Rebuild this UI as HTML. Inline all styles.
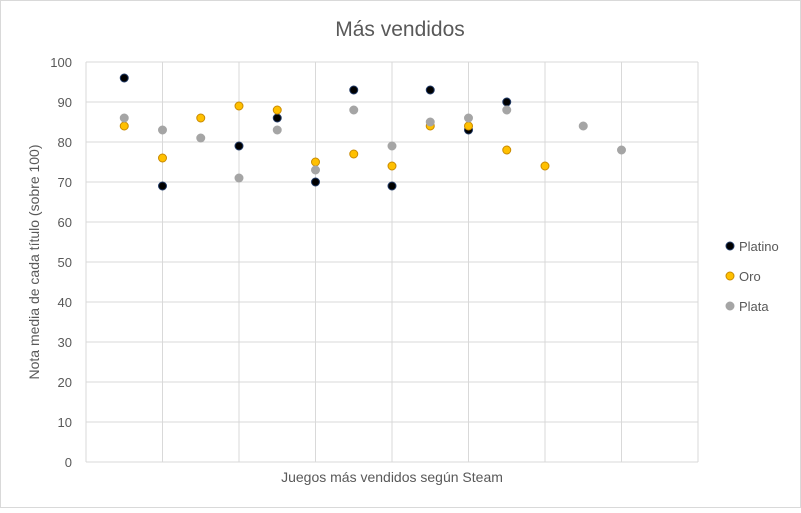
<!DOCTYPE html>
<html><head><meta charset="utf-8"><style>
body{margin:0;background:#fff;font-family:"Liberation Sans",sans-serif}
svg text{font-family:"Liberation Sans",sans-serif;fill:#595959}
</style></head><body>
<svg width="801" height="508">
<rect x="0.5" y="0.5" width="800" height="507" fill="#fff" stroke="#d9d9d9"/>
<text x="400" y="36" text-anchor="middle" font-size="21">Más vendidos</text>
<g id="grid"></g><g id="marks"></g>
<text x="392" y="482" text-anchor="middle" font-size="14">Juegos más vendidos según Steam</text>
<text transform="translate(39,262) rotate(-90)" text-anchor="middle" font-size="14">Nota media de cada título (sobre 100)</text>
<g id="legend"></g>
</svg>
<script>
const yTicks=[0,10,20,30,40,50,60,70,80,90,100];
const xTicks=[0,1,2,3,4,5,6,7,8];
const seriesNames=["Platino","Oro","Plata"];
const seriesColors=["#000000","#ffc000","#a5a5a5"];
const seriesStroke=["#1f3864","#c98a00","#a5a5a5"];
const platinoX=[0.5,1,2,2.5,3,3.5,4,4.5,5,5.5];
const platinoY=[96,69,79,86,70,93,69,93,83,90];
const oroX=[0.5,1,1.5,2,2.5,3,3.5,4,4.5,5,5.5,6];
const oroY=[84,76,86,89,88,75,77,74,84,84,78,74];
const plataX=[0.5,1,1.5,2,2.5,3,3.5,4,4.5,5,5.5,6.5,7];
const plataY=[86,83,81,71,83,73,88,79,85,86,88,84,78];
const NS="http://www.w3.org/2000/svg";
const x0=86,x1=698,y0=462,y1=62;
const sx=v=>x0+(x1-x0)*v/8, sy=v=>y0-(y0-y1)*v/100;
function mk(t,a,p){const e=document.createElementNS(NS,t);for(const k in a)e.setAttribute(k,a[k]);p.appendChild(e);return e;}
const grid=document.getElementById('grid');
yTicks.forEach(v=>{
 const l=mk('line',{x1:x0,x2:x1,y1:sy(v),y2:sy(v),stroke:'#d9d9d9'},grid);
 
 
 const t=mk('text',{x:72,y:sy(v)+5,'text-anchor':'end','font-size':13},grid);t.textContent=v;
 
 
});
xTicks.forEach(v=>{
 const l=mk('line',{x1:sx(v),x2:sx(v),y1:y1,y2:y0,stroke:'#d9d9d9'},grid);
 
 
});
const marks=document.getElementById('marks');
[[platinoX,platinoY],[oroX,oroY],[plataX,plataY]].forEach((s,i)=>{
 s[0].forEach((xv,j)=>{
  const c=mk('circle',{cx:sx(xv),cy:sy(s[1][j]),r:4,fill:seriesColors[i],stroke:seriesStroke[i],'stroke-width':1},marks);
  
  
 });
});
const lg=document.getElementById('legend');
seriesNames.forEach((n,i)=>{
 const y=246+i*30;
 const c=mk('circle',{cx:730,cy:y,r:4,fill:seriesColors[i],stroke:seriesStroke[i]},lg);
 
 
 const t=mk('text',{x:739,y:y+5,'font-size':13},lg);t.textContent=n;
 
 
});
</script>
</body></html>
